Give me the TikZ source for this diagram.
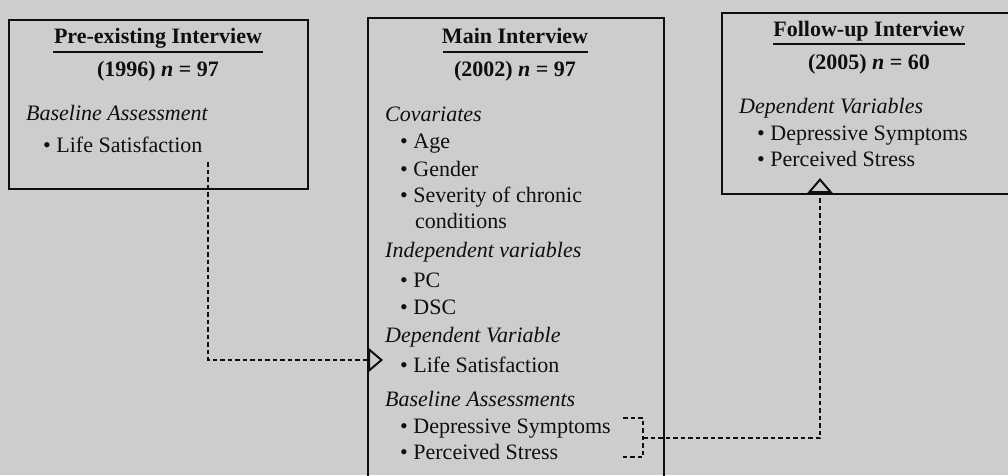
\documentclass[tikz,border=0pt]{standalone}
\usepackage{fontspec}
\setmainfont{Liberation Serif}
\usetikzlibrary{arrows.meta}
\definecolor{bgcol}{RGB}{205,205,203}
\definecolor{ink}{RGB}{15,15,15}
\tikzset{
  every node/.style={inner sep=0pt, text=ink, font=\fontsize{22}{26}\selectfont},
  box/.style={draw=ink, line width=2pt},
  txt/.style={anchor=base west},
  ttl/.style={anchor=base, font=\fontsize{22}{26}\selectfont\bfseries},
  uline/.style={draw=ink, line width=2pt},
  conn/.style={draw=ink, line width=2pt, dash pattern=on 4.5pt off 3pt},
  tip/.style={-{Triangle[open, length=15pt, width=25pt, line width=2pt]}}
}
\newcommand{\bul}{\textbullet\ }
\begin{document}
\begin{tikzpicture}[x=1pt,y=-1pt]
\useasboundingbox (0,0) rectangle (1008,475);
\clip (0,0) rectangle (1008,475);
\fill[bgcol] (0,0) rectangle (1008,475);

% boxes
\node[box, anchor=north west, minimum width=299pt, minimum height=169pt] (pre) at (8,19) {};
\node[box, anchor=north west, minimum width=296pt, minimum height=500pt] (main) at (367,17) {};
\node[box, anchor=north west, minimum width=320pt, minimum height=181pt] (fol) at (721,12) {};

% Pre-existing interview
\node[ttl] (t1) at (158,43) {Pre-existing Interview};
\draw[uline] (53,52) -- (263,52);
\node[ttl] (n1) at (158,76) {(1996) \textit{n} = 97};
\node[txt] (h1) at (26,120) {\textit{Baseline Assessment}};
\node[txt] (l1) at (43,152) {\bul Life Satisfaction};

% Main interview
\node[ttl] (t2) at (515,43) {Main Interview};
\draw[uline] (443,52) -- (588,52);
\node[ttl] (n2) at (515,76) {(2002) \textit{n} = 97};
\node[txt] (h2a) at (385,121) {\textit{Covariates}};
\node[txt] (m1) at (400,148) {\bul Age};
\node[txt] (m2) at (400,176) {\bul Gender};
\node[txt] (m3) at (400,202) {\bul Severity of chronic};
\node[txt] (m4) at (415,228) {conditions};
\node[txt] (h2b) at (385,257) {\textit{Independent variables}};
\node[txt] (m5) at (400,287) {\bul PC};
\node[txt] (m6) at (400,314) {\bul DSC};
\node[txt] (h2c) at (385,342) {\textit{Dependent Variable}};
\node[txt] (m7) at (400,372) {\bul Life Satisfaction};
\node[txt] (h2d) at (385,406) {\textit{Baseline Assessments}};
\node[txt] (m8) at (400,433) {\bul Depressive Symptoms};
\node[txt] (m9) at (400,459) {\bul Perceived Stress};

% Follow-up interview
\node[ttl] (t3) at (869,36) {Follow-up Interview};
\draw[uline] (773,44) -- (965,44);
\node[ttl] (n3) at (869,69) {(2005) \textit{n} = 60};
\node[txt] (h3) at (739,113) {\textit{Dependent Variables}};
\node[txt] (f1) at (757,140) {\bul Depressive Symptoms};
\node[txt] (f2) at (757,166) {\bul Perceived Stress};

% connectors
\coordinate (a1) at (208,162);
\coordinate (a2) at (383,360);
\draw[conn, tip] (a1) |- (a2);

\coordinate (b1) at (623,418);
\coordinate (b2) at (643,418);
\coordinate (b3) at (643,457);
\coordinate (b4) at (623,457);
\draw[conn] (b1) -- (b2) -- (b3) -- (b4);
\coordinate (bm) at (643,438);
\coordinate (c1) at (820,178);
\draw[conn, tip] (bm) -| (c1);
\end{tikzpicture}
\end{document}
